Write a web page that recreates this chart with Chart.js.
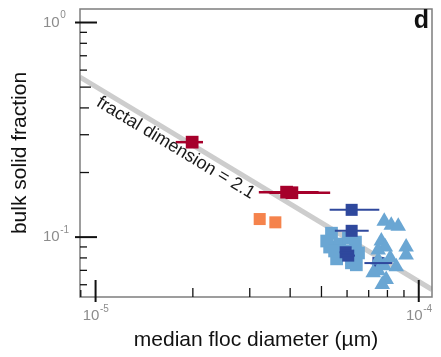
<!DOCTYPE html>
<html>
<head>
<meta charset="utf-8">
<script src="https://cdn.jsdelivr.net/npm/chart.js@4/dist/chart.umd.min.js"></script>
<style>
  html, body { margin: 0; padding: 0; background: #ffffff; }
  canvas { display: block; }
</style>
</head>
<body>
<canvas id="chart" width="441" height="357"></canvas>
<script>
// Axis limits (log scales)
const diameterRange = [8.95e-6, 1.099e-4];
const fractionRange = [0.0526, 1.156];

// Major ticks and their exponent labels (drawn as 10^n)
const diameterMajorTicks = [1e-5, 1e-4];
const diameterTickExponents = ['-5', '-4'];
const fractionMajorTicks = [1e-1, 1e0];
const fractionTickExponents = ['-1', '0'];

// Reference line, fractal dimension 2.1
const fitDiameter = [8.95e-6, 1.099e-4];
const fitFraction = [0.557, 0.057];
const fitLabel = 'fractal dimension = 2.1';
const fitLabelAt = 1.845e-5;

// Dark red squares with diameter ranges
const redDiameter = [1.99e-5, 3.90e-5, 4.05e-5];
const redFraction = [0.277, 0.162, 0.161];
const redLow = [1.77e-5, 3.20e-5, 3.45e-5];
const redHigh = [2.15e-5, 4.90e-5, 5.32e-5];

// Orange squares
const orangeDiameter = [3.22e-5, 3.60e-5];
const orangeFraction = [0.1214, 0.1172];

// Dark blue squares with diameter ranges
const navyDiameter = [6.20e-5, 6.20e-5, 5.94e-5, 6.05e-5, 7.50e-5];
const navyFraction = [0.134, 0.107, 0.085, 0.082, 0.0757];
const navyLow = [5.30e-5, 5.50e-5, 5.69e-5, 5.75e-5, 6.79e-5];
const navyHigh = [7.55e-5, 7.00e-5, 6.28e-5, 6.35e-5, 8.28e-5];

// Light blue squares
const skyDiameter = [5.37e-5, 5.30e-5, 5.69e-5, 5.57e-5, 6.06e-5, 6.37e-5, 6.51e-5, 6.41e-5, 5.93e-5, 6.19e-5, 5.19e-5, 5.49e-5];
const skyFraction = [0.1043, 0.0899, 0.0928, 0.0792, 0.0989, 0.0948, 0.0844, 0.0743, 0.0862, 0.0759, 0.0959, 0.0862];

// Light blue triangles
const triDiameter = [7.82e-5, 8.22e-5, 8.64e-5, 7.66e-5, 7.88e-5, 7.49e-5, 9.14e-5, 9.14e-5, 7.49e-5, 8.16e-5, 8.52e-5, 7.49e-5, 7.93e-5, 7.71e-5, 7.23e-5, 7.82e-5];
const triFraction = [0.1185, 0.1136, 0.1124, 0.0959, 0.0899, 0.0871, 0.0899, 0.0826, 0.0783, 0.0800, 0.0728, 0.0697, 0.0634, 0.0601, 0.0683, 0.0735];

const FONT = "'Liberation Sans', Arial, Helvetica, sans-serif";

function pairs(xs, ys) {
  return xs.map((v, i) => ({ x: v, y: ys[i] }));
}

function drawPower(ctx, x, y, exp, align) {
  // draws "10" with a raised exponent; y is the vertical centre of "10"
  ctx.fillStyle = '#8c8c8c';
  ctx.textBaseline = 'middle';
  ctx.font = '15px ' + FONT;
  const wBase = ctx.measureText('10').width;
  ctx.font = '10px ' + FONT;
  const wExp = ctx.measureText(exp).width;
  let start;
  if (align === 'center') start = x - (wBase + wExp) / 2;
  else start = x; // left aligned
  ctx.font = '15px ' + FONT;
  ctx.textAlign = 'left';
  ctx.fillText('10', start, y);
  ctx.font = '10px ' + FONT;
  ctx.fillText(exp, start + wBase + 0.5, y - 7);
}

const decorations = {
  id: 'decorations',
  afterDatasetsDraw(chart) {
    const { ctx, chartArea: a, scales: { x, y } } = chart;
    ctx.save();

    // horizontal ranges
    chart.data.datasets.forEach(ds => {
      if (!ds.errLow) return;
      ctx.strokeStyle = ds.backgroundColor;
      ctx.lineWidth = ds.errWidth;
      ds.data.forEach((p, i) => {
        const py = y.getPixelForValue(p.y);
        ctx.beginPath();
        ctx.moveTo(x.getPixelForValue(ds.errLow[i]), py);
        ctx.lineTo(x.getPixelForValue(ds.errHigh[i]), py);
        ctx.stroke();
      });
    });

    // frame
    ctx.strokeStyle = '#7d7d7d';
    ctx.lineWidth = 1.5;
    ctx.strokeRect(a.left, a.top, a.right - a.left, a.bottom - a.top);

    // inward ticks
    ctx.strokeStyle = '#111111';
    const minorLen = m => (m === 5 ? 11 : (m < 5 ? 9 : 7));
    ctx.lineWidth = 1.3;
    for (let d = -6; d <= 0; d++) {
      for (let m = 2; m <= 9; m++) {
        const v = m * Math.pow(10, d);
        if (v > diameterRange[0] && v < diameterRange[1]) {
          const px = x.getPixelForValue(v);
          ctx.beginPath(); ctx.moveTo(px, a.bottom); ctx.lineTo(px, a.bottom - minorLen(m)); ctx.stroke();
        }
        if (v > fractionRange[0] && v < fractionRange[1]) {
          const py = y.getPixelForValue(v);
          ctx.beginPath(); ctx.moveTo(a.left, py); ctx.lineTo(a.left + minorLen(m), py); ctx.stroke();
        }
      }
    }
    ctx.lineWidth = 2;
    diameterMajorTicks.forEach((v, i) => {
      const px = x.getPixelForValue(v);
      ctx.beginPath(); ctx.moveTo(px, a.bottom + 5); ctx.lineTo(px, a.bottom - 17); ctx.stroke();
      drawPower(ctx, px, a.bottom + 19, diameterTickExponents[i], 'center');
    });
    fractionMajorTicks.forEach((v, i) => {
      const py = y.getPixelForValue(v);
      ctx.strokeStyle = '#111111';
      ctx.beginPath(); ctx.moveTo(a.left - 5, py); ctx.lineTo(a.left + 17, py); ctx.stroke();
      drawPower(ctx, 43, py, fractionTickExponents[i], 'left');
    });

    // label along the reference line
    const p0 = { x: x.getPixelForValue(fitDiameter[0]), y: y.getPixelForValue(fitFraction[0]) };
    const p1 = { x: x.getPixelForValue(fitDiameter[1]), y: y.getPixelForValue(fitFraction[1]) };
    const ang = Math.atan2(p1.y - p0.y, p1.x - p0.x);
    const t = (x.getPixelForValue(fitLabelAt) - p0.x) / (p1.x - p0.x);
    const ax = p0.x + t * (p1.x - p0.x), ay = p0.y + t * (p1.y - p0.y);
    const off = 11.3;
    ctx.translate(ax - Math.sin(ang) * off, ay + Math.cos(ang) * off);
    ctx.rotate(ang);
    ctx.fillStyle = '#1a1a1a';
    ctx.font = '18px ' + FONT;
    ctx.textAlign = 'center';
    ctx.textBaseline = 'middle';
    ctx.fillText(fitLabel, 0, 0);
    ctx.setTransform(1, 0, 0, 1, 0, 0);

    // axis titles
    ctx.fillStyle = '#111111';
    ctx.font = '21px ' + FONT;
    ctx.textAlign = 'center';
    ctx.textBaseline = 'alphabetic';
    ctx.fillText('median floc diameter (µm)', (a.left + a.right) / 2, 346);
    ctx.save();
    ctx.translate(20, (a.top + a.bottom) / 2);
    ctx.rotate(-Math.PI / 2);
    ctx.textBaseline = 'middle';
    ctx.fillText('bulk solid fraction', 0, 0);
    ctx.restore();

    // panel letter
    ctx.font = 'bold 25px ' + FONT;
    ctx.textAlign = 'right';
    ctx.textBaseline = 'alphabetic';
    ctx.fillText('d', 429, 28);

    ctx.restore();
  }
};

new Chart(document.getElementById('chart'), {
  type: 'scatter',
  data: {
    datasets: [
      {
        type: 'line',
        data: pairs(fitDiameter, fitFraction),
        borderColor: '#cdcdcd',
        borderWidth: 5,
        pointRadius: 0,
        showLine: true,
        order: 10
      },
      {
        data: pairs(skyDiameter, skyFraction),
        backgroundColor: '#6aa6d3',
        pointStyle: 'rect',
        pointRadius: 9,
        pointBorderWidth: 0,
        order: 6
      },
      {
        data: pairs(navyDiameter, navyFraction),
        backgroundColor: '#2f489d',
        pointStyle: 'rect',
        pointRadius: 8.5,
        pointBorderWidth: 0,
        errLow: navyLow,
        errHigh: navyHigh,
        errWidth: 2,
        order: 5
      },
      {
        data: pairs(triDiameter, triFraction),
        backgroundColor: '#6aa6d3',
        pointStyle: 'triangle',
        pointRadius: 9,
        pointBorderWidth: 0,
        order: 4
      },
      {
        data: pairs(orangeDiameter, orangeFraction),
        backgroundColor: '#f5834c',
        pointStyle: 'rect',
        pointRadius: 8.5,
        pointBorderWidth: 0,
        order: 3
      },
      {
        data: pairs(redDiameter, redFraction),
        backgroundColor: '#a6002b',
        pointStyle: 'rect',
        pointRadius: 9,
        pointBorderWidth: 0,
        errLow: redLow,
        errHigh: redHigh,
        errWidth: 2.5,
        order: 2
      }
    ]
  },
  options: {
    responsive: false,
    animation: false,
    events: [],
    layout: { padding: { left: 80, right: 7, top: 5, bottom: 60 } },
    plugins: { legend: { display: false }, tooltip: { enabled: false } },
    scales: {
      x: { type: 'logarithmic', min: diameterRange[0], max: diameterRange[1], display: false },
      y: { type: 'logarithmic', min: fractionRange[0], max: fractionRange[1], display: false }
    }
  },
  plugins: [decorations]
});
</script>
</body>
</html>
